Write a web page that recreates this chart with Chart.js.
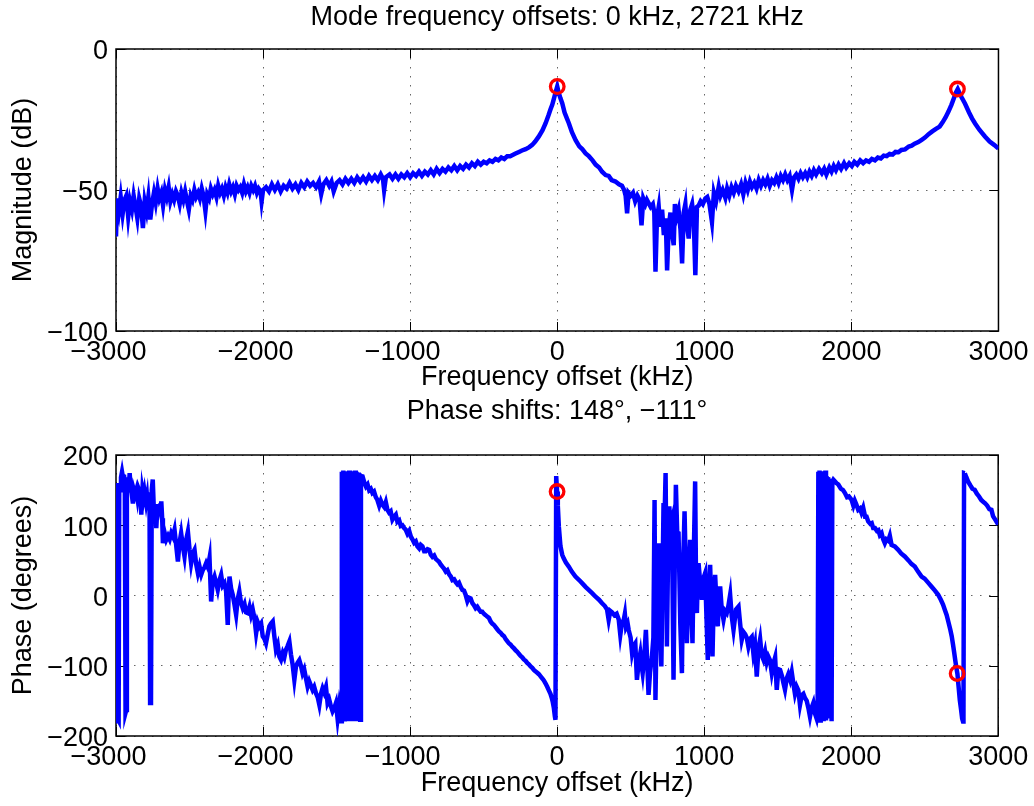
<!DOCTYPE html>
<html lang="en">
<head>
<meta charset="UTF-8">
<title>Mode frequency offsets</title>
<script src="https://cdn.jsdelivr.net/npm/chart.js"></script>
<style>
  body { margin: 0; background: #fff; }
  #wrap { position: relative; width: 1034px; height: 806px; }
  canvas { position: absolute; left: 0; }
  #magChart { top: 0; }
  #phaseChart { top: 395px; }
</style>
</head>
<body>
<div id="wrap">
  <canvas id="magChart" width="1034" height="395"></canvas>
  <canvas id="phaseChart" width="1034" height="411"></canvas>
</div>
<script>
// axis ticks
const freqTicks = [-3000, -2000, -1000, 0, 1000, 2000, 3000];
const magTicks = [-100, -50, 0];
const phaseTicks = [-200, -100, 0, 100, 200];

// detected modes (red circles)
const markerFreq = [0, 2721];
const markerMag = [-13.3, -14.2];
const markerPhase = [148, -111];

// measured magnitude response [kHz, dB]
const magnitudeTrace = [
  [-3000,-66.5],[-2993,-53],[-2980,-57.5],[-2968,-52.5],[-2955,-58.5],[-2942,-53.5],[-2930,-52],[-2917,-59.5],
  [-2905,-54],[-2892,-57],[-2880,-52],[-2867,-56],[-2855,-60],[-2842,-53],[-2830,-55.5],[-2817,-63.5],
  [-2805,-54],[-2792,-57.5],[-2780,-52.5],[-2767,-60.5],[-2755,-55],[-2742,-51],[-2730,-54.5],[-2717,-49.5],
  [-2705,-53],[-2692,-51],[-2680,-55.5],[-2667,-50],[-2655,-52.5],[-2642,-49],[-2630,-54],[-2617,-51.5],
  [-2605,-53.5],[-2592,-50.5],[-2580,-52],[-2567,-55],[-2555,-51],[-2542,-53.5],[-2530,-50.5],[-2517,-54],
  [-2505,-57],[-2492,-52],[-2480,-53.5],[-2467,-50],[-2455,-52.5],[-2442,-51],[-2430,-53],[-2417,-49.5],
  [-2405,-52],[-2392,-57.5],[-2380,-51.5],[-2367,-53],[-2355,-49.5],[-2342,-51.5],[-2330,-50],[-2317,-52.5],
  [-2305,-48.5],[-2292,-51],[-2280,-49.5],[-2267,-52],[-2255,-49],[-2242,-51],[-2230,-48],[-2217,-50.5],
  [-2205,-49],[-2192,-51.5],[-2180,-48.5],[-2167,-50],[-2155,-49],[-2142,-51],[-2130,-48],[-2117,-50.5],
  [-2105,-49],[-2092,-51],[-2080,-48.5],[-2067,-50],[-2055,-48.5],[-2042,-51],[-2030,-49.5],[-2017,-50.5],
  [-2010,-54],[-2000,-50],[-1980,-49],[-1960,-50.5],[-1940,-48],[-1920,-50],[-1900,-48],[-1880,-50.5],
  [-1860,-48.5],[-1840,-49.5],[-1820,-47.5],[-1800,-49.5],[-1780,-48],[-1760,-50],[-1740,-47.5],[-1720,-49],
  [-1700,-47],[-1680,-48.5],[-1660,-47.5],[-1640,-49],[-1620,-47],[-1605,-51.5],[-1590,-48],[-1570,-46.5],
  [-1550,-48.5],[-1535,-47],[-1520,-50.5],[-1500,-47.5],[-1480,-46.5],[-1460,-48],[-1440,-46],[-1420,-47.5],
  [-1400,-46],[-1380,-47.5],[-1360,-45.5],[-1340,-47],[-1320,-45.5],[-1300,-47],[-1280,-45],[-1260,-46.5],
  [-1240,-45],[-1220,-46.5],[-1200,-44.5],[-1185,-46],[-1177,-50],[-1165,-45.5],[-1140,-44.5],[-1120,-46],
  [-1100,-44.5],[-1080,-46],[-1060,-44.5],[-1040,-45.5],[-1020,-44],[-1000,-45.5],[-980,-44],[-960,-45],
  [-940,-43.5],[-920,-45],[-900,-43.5],[-880,-44.5],[-860,-43],[-840,-44.5],[-820,-42.5],[-800,-44],
  [-780,-42.5],[-760,-43.5],[-740,-42],[-720,-43],[-700,-41.5],[-680,-43],[-660,-41.5],[-640,-42.5],
  [-620,-41],[-600,-42],[-580,-40.5],[-560,-41.5],[-540,-40],[-520,-41],[-500,-40],[-480,-40.5],
  [-460,-39.5],[-440,-40],[-420,-39],[-400,-39.5],[-380,-38.5],[-360,-39],[-340,-38],[-320,-38],
  [-300,-37.5],[-280,-37],[-260,-36.5],[-240,-36],[-215,-35.5],[-190,-34.8],[-170,-34],[-150,-32.8],
  [-125,-31],[-100,-28.8],[-79,-26.3],[-60,-23.6],[-45,-21.3],[-34,-19.8],[-22,-17.5],[-12,-15.5],
  [0,-13.3],[10,-15.5],[22,-17.5],[34,-19.2],[50,-22.5],[65,-24.5],[79,-26.3],[100,-29.5],
  [125,-32.3],[150,-34.5],[170,-35.5],[193,-37],[215,-38],[240,-39.5],[261,-41],[285,-42],
  [305,-43.5],[329,-44.7],[350,-45],[370,-46.5],[396,-47],[420,-48],[440,-48.5],[455,-50],
  [465,-52],[475,-58.3],[485,-51],[500,-52],[515,-51],[530,-54],[545,-52],[560,-53.5],
  [573,-62.5],[585,-53],[600,-55],[610,-53.5],[622,-54.7],[635,-56],[650,-55],[660,-58],
  [668,-79],[678,-60],[690,-56],[700,-63],[713,-57],[725,-66],[738,-60],[747,-78.5],
  [758,-63],[770,-58],[780,-65],[792,-69.6],[800,-55],[810,-60],[825,-57],[838,-64],
  [849,-76],[860,-58],[871,-55],[880,-62],[894,-67.2],[905,-57],[917,-55],[928,-60],
  [939,-80.2],[950,-56],[962,-55.5],[975,-54],[990,-55],[1007,-53],[1020,-52.5],[1035,-55],
  [1052,-61.3],[1065,-51],[1080,-54],[1098,-48.8],[1110,-52],[1125,-50],[1143,-52.8],[1155,-49.5],
  [1170,-52],[1185,-49],[1200,-51],[1215,-48.5],[1233,-50.5],[1250,-48],[1265,-51.5],[1280,-47.5],
  [1295,-50],[1310,-47],[1324,-49],[1340,-47.5],[1355,-49.5],[1370,-46.5],[1385,-48.5],[1400,-46.5],
  [1415,-48],[1430,-46],[1445,-48.5],[1460,-46.5],[1475,-47.5],[1490,-45.5],[1505,-47.5],[1520,-45],
  [1535,-46.5],[1550,-44.5],[1565,-46.5],[1580,-45],[1596,-50],[1610,-45.5],[1625,-44.5],[1640,-46],
  [1655,-44],[1670,-45.5],[1686,-44],[1700,-45.5],[1715,-43.5],[1730,-45],[1745,-43],[1760,-44.5],
  [1780,-42.5],[1799,-44],[1815,-42.5],[1830,-44.5],[1850,-42],[1865,-43.5],[1880,-41.5],[1895,-43],
  [1913,-41],[1930,-42.5],[1950,-40.5],[1965,-42],[1985,-40.5],[2003,-41.5],[2020,-40],[2040,-41],
  [2060,-39.5],[2080,-40.5],[2100,-39.5],[2120,-40],[2139,-39],[2160,-39.5],[2180,-38.5],[2200,-38.8],
  [2220,-37.8],[2240,-38],[2260,-37.2],[2280,-37.4],[2300,-36.5],[2320,-36.6],[2340,-35.8],[2365,-35.6],
  [2390,-34.6],[2410,-34.3],[2430,-33.6],[2455,-33],[2478,-32.2],[2500,-31.4],[2525,-30.2],[2550,-29.2],
  [2575,-28.3],[2600,-27.5],[2620,-26],[2640,-24.3],[2660,-22.2],[2680,-19.8],[2700,-17],[2712,-15.3],
  [2723,-14.2],[2735,-15.6],[2750,-17.2],[2773,-19.4],[2800,-22.5],[2820,-24.6],[2841,-26.4],[2870,-28.6],
  [2908,-31],[2940,-32.8],[2970,-34],[3000,-35.3]
];

// measured phase response [kHz, degrees]
const phaseTrace = [
  [-3000,155],[-2996,160],[-2992,-179],[-2987,-176],[-2982,-178],[-2978,158],[-2972,150],[-2966,168],
  [-2959,176],[-2952,167],[-2946,172],[-2940,160],[-2935,-167],[-2930,-163],[-2926,150],[-2919,168],
  [-2913,155],[-2907,174],[-2900,152],[-2893,145],[-2885,131],[-2878,150],[-2870,144],[-2862,150],
  [-2855,140],[-2848,153],[-2839,148],[-2833,136],[-2828,115],[-2820,150],[-2812,140],[-2806,148],
  [-2795,132],[-2789,140],[-2783,122],[-2777,140],[-2772,147],[-2768,-153],[-2762,-150],[-2757,150],
  [-2750,165],[-2744,130],[-2738,112],[-2732,130],[-2726,96],[-2720,120],[-2714,126],[-2704,128],
  [-2697,120],[-2692,134],[-2686,110],[-2681,74.5],[-2670,90],[-2658,79.3],[-2646,85],[-2635,80],
  [-2624,88.8],[-2613,84],[-2602,93.5],[-2590,70],[-2579,48.4],[-2568,75],[-2557,88.8],[-2545,70],
  [-2534,55.6],[-2522,80],[-2511,91],[-2500,66],[-2489,46],[-2478,60],[-2466,65],[-2455,45],
  [-2443,31.8],[-2432,41.3],[-2420,30],[-2409,36.6],[-2398,40],[-2387,46],[-2375,40],[-2364,53.2],
  [-2353,-8.5],[-2342,20],[-2330,27],[-2319,18],[-2308,8],[-2296,22],[-2285,29.4],[-2274,14],
  [-2262,17.6],[-2251,6],[-2240,-41.8],[-2234,0],[-2228,27],[-2217,10],[-2206,1],[-2195,-12],
  [-2183,-27.5],[-2172,-5],[-2161,5.7],[-2150,-10],[-2138,-18],[-2126,-12],[-2115,-24],[-2104,-25],
  [-2092,-16],[-2081,-28],[-2070,-20],[-2058,-33],[-2047,-53.7],[-2036,-38],[-2025,-44],[-2013,-40],
  [-2002,-58],[-1990,-62],[-1980,-68],[-1968,-55],[-1957,-44],[-1946,-40],[-1934,-37],[-1923,-58],
  [-1912,-77],[-1900,-70],[-1889,-87],[-1878,-91.6],[-1866,-82],[-1855,-88],[-1844,-77],[-1833,-72],
  [-1821,-65.5],[-1810,-84],[-1799,-98],[-1787,-120],[-1776,-101],[-1765,-96],[-1753,-92],[-1742,-100],
  [-1731,-110.6],[-1720,-105],[-1708,-118],[-1697,-129.6],[-1686,-122],[-1675,-128],[-1663,-134.4],[-1652,-130],
  [-1640,-139],[-1628,-145],[-1617,-155.7],[-1606,-140],[-1595,-132],[-1584,-138],[-1572,-130],[-1561,-153],
  [-1550,-148],[-1538,-158],[-1527,-165],[-1515,-160],[-1504,-153],[-1493,-175],[-1482,-156],[-1473,-168],
  [-1468,-179],[-1464,176],[-1459,-178],[-1454,178],[-1449,-176],[-1444,175],[-1439,-179],[-1434,177],
  [-1429,-177],[-1424,176],[-1419,-175],[-1414,178],[-1409,-179],[-1404,174],[-1399,-178],[-1394,177],
  [-1389,-176],[-1384,175],[-1379,-179],[-1374,178],[-1369,-177],[-1364,176],[-1359,-178],[-1354,175],
  [-1349,-179],[-1344,174],[-1339,-177],[-1334,170],[-1323,169.5],[-1310,160],[-1300,155],[-1289,158],
  [-1278,150],[-1267,152],[-1256,146],[-1245,148],[-1233,140],[-1222,136],[-1210,128],[-1199,135],
  [-1187,129],[-1176,126],[-1165,133],[-1154,122],[-1143,118],[-1132,120],[-1120,108],[-1109,112],
  [-1097,115],[-1086,105],[-1074,107],[-1063,99],[-1052,100],[-1040,96],[-1029,93.5],[-1018,88],
  [-1006,92],[-995,84],[-984,80],[-972,75],[-961,77],[-950,70],[-938,67],[-927,72],
  [-916,70],[-904,63],[-893,63],[-881,66],[-870,65],[-859,58],[-848,55],[-836,57],
  [-825,52],[-814,50],[-803,48],[-791,44],[-780,41],[-768,38],[-757,34],[-746,36],
  [-734,30],[-723,27],[-712,22],[-700,23],[-689,19],[-678,16],[-667,18],[-655,12],
  [-644,8],[-633,7],[-622,1],[-610,-8],[-599,-3],[-588,-4],[-576,-11],[-565,-14],
  [-554,-18],[-543,-16],[-531,-20],[-520,-23],[-509,-23],[-498,-26],[-486,-28],[-475,-30],
  [-463,-32],[-452,-37],[-441,-40],[-429,-42],[-418,-45],[-407,-48],[-395,-51],[-384,-53],
  [-373,-56],[-361,-58],[-350,-62],[-339,-65],[-328,-68],[-316,-70],[-305,-73],[-294,-75],
  [-282,-78],[-271,-80],[-260,-83],[-248,-86],[-237,-88],[-226,-91],[-214,-93],[-203,-96],
  [-192,-98],[-180,-101],[-169,-103],[-158,-106],[-146,-108],[-135,-110],[-124,-112],[-112,-115],
  [-101,-118],[-90,-121],[-79,-125],[-67,-130],[-56,-135],[-45,-140],[-36,-146],[-29,-152],
  [-22,-160],[-15,-172],[-11,-177],[-6,170],[0,148],[5,128],[12,98],[23,70],
  [35,58],[45,53],[60,47],[80,41],[100,34],[125,27],[150,22],[170,17.6],
  [195,12],[215,8],[240,3],[260,-1.4],[285,-6],[306,-11],[325,-15],[340,-20],
  [351,-34.7],[362,-22],[374,-24],[390,-28],[405,-26],[419,-34],[430,-56],[442,-38],
  [453,-35],[461,-26],[469,-45],[480,-40],[487,-49],[500,-60],[510,-82],[520,-72],
  [532,-68],[543,-120],[555,-95],[566,-82],[575,-100],[582,-110.6],[592,-90],[604,-49],
  [612,-90],[622,-141.5],[632,-110],[645,-87],[655,-60],[663,136],[669,-148.6],[676,-60],
  [684,30],[691,74.5],[700,-40],[709,-101],[716,0],[724,131.5],[731,110],[738,174.3],
  [743,50],[747,-72.6],[755,60],[763,126.8],[772,100],[781,107.8],[787,-20],[792,-120],
  [800,40],[808,157.6],[817,90],[826,88.8],[838,-40],[849,-110.6],[858,50],[867,119.7],
  [875,40],[883,-68],[893,20],[905,79.3],[913,-20],[921,-68],[930,60],[939,162.4],
  [945,20],[951,-25],[957,30],[962,46],[973,20],[985,-6],[996,25],[1007,31.8],
  [1016,-30],[1025,-91.6],[1033,10],[1041,43.7],[1049,-20],[1057,-86.9],[1066,0],[1075,29.4],
  [1084,-10],[1093,-44],[1101,-5],[1109,12.8],[1120,-20],[1132,-34.7],[1143,-22],[1154,-25],
  [1165,-15],[1177,1],[1188,-30],[1200,-49],[1217,-20],[1234,-15.7],[1245,-40],[1256,-63],
  [1268,-52],[1279,-55],[1290,-60],[1301,-72.6],[1312,-62],[1324,-59],[1335,-82],[1346,-70],
  [1358,-115.4],[1370,-75],[1381,-62],[1392,-85],[1403,-91],[1415,-80],[1426,-95],[1437,-87],
  [1448,-92],[1460,-110],[1471,-97],[1483,-88],[1494,-134.4],[1505,-105],[1517,-106],[1530,-115],
  [1540,-125],[1550,-134],[1562,-118],[1573,-112],[1585,-120],[1596,-109],[1607,-125],[1618,-140],
  [1630,-130],[1641,-135],[1652,-155.7],[1664,-142],[1675,-140],[1686,-146],[1698,-150],[1709,-160],
  [1720,-172.4],[1731,-160],[1743,-153],[1754,-168],[1765,-175],[1772,-165],[1777,176],[1781,-176],
  [1785,178],[1789,-178],[1793,175],[1797,-174],[1801,177],[1805,-177],[1809,176],[1813,-179],
  [1817,174],[1821,-176],[1825,178],[1829,-178],[1833,170],[1838,-175],[1843,168],[1850,160],
  [1856,166],[1862,158],[1867,-179],[1872,162],[1879,164.8],[1900,160],[1913,158],[1930,152],
  [1945,150],[1958,145.8],[1972,140],[1985,141],[2003,136.3],[2015,128],[2025,135],[2035,130],
  [2048,122],[2060,124],[2070,118],[2082,125],[2095,112],[2105,112],[2116,105.4],[2130,102],
  [2140,103],[2150,96],[2162,96],[2175,92],[2185,93],[2195,86],[2207,88.8],[2218,80],
  [2229,74.5],[2240,80],[2252,78],[2263,85],[2275,72],[2297,69.8],[2320,65],[2340,60],
  [2365,55.6],[2390,50],[2410,45],[2433,41.3],[2455,34],[2479,27],[2500,24],[2525,18],
  [2546,12.8],[2570,7],[2592,1],[2610,-6],[2625,-13],[2637,-20.4],[2650,-28],[2662,-38],
  [2675,-49],[2684,-58],[2693,-70],[2700,-80],[2708,-92],[2716,-103],[2723,-111.6],[2730,-128],
  [2739,-148.6],[2748,-163],[2755,-175],[2761,-179.5],[2764,-175],[2768,174.3],[2773,174],[2784,168],
  [2795,162.4],[2810,157],[2825,152],[2840,150.5],[2855,145],[2870,141],[2885,136],[2900,133],
  [2910,131.5],[2925,128],[2940,123],[2954,122],[2965,113],[2980,108],[2992,104],[3000,101]
];

Chart.defaults.font.family = '"Liberation Sans", Arial, Helvetica, sans-serif';
Chart.defaults.font.size = 27;
Chart.defaults.color = '#000';

// matlab style labels: true minus sign, digits centred under the tick
function tickText(v) {
  if (v < 0) return '\u2212' + Math.abs(v) + '  ';
  return String(v);
}
function yTickText(v) {
  return v < 0 ? '\u2212' + Math.abs(v) : String(v);
}

// box round the axes and inward tick marks on all four sides
const boxPlugin = {
  id: 'axesBox',
  beforeDatasetsDraw(chart) {
    const { ctx, chartArea: a, scales } = chart;
    const len = 9;
    ctx.save();
    ctx.strokeStyle = '#000';
    ctx.lineWidth = 1;
    ctx.beginPath();
    scales.x.ticks.forEach(t => {
      const px = Math.round(scales.x.getPixelForValue(t.value)) + 0.5;
      ctx.moveTo(px, a.bottom); ctx.lineTo(px, a.bottom - len);
      ctx.moveTo(px, a.top); ctx.lineTo(px, a.top + len);
    });
    scales.y.ticks.forEach(t => {
      const py = Math.round(scales.y.getPixelForValue(t.value)) + 0.5;
      ctx.moveTo(a.left, py); ctx.lineTo(a.left + len, py);
      ctx.moveTo(a.right, py); ctx.lineTo(a.right - len, py);
    });
    ctx.stroke();
    ctx.lineWidth = 1.5;
    ctx.strokeRect(a.left, a.top, a.right - a.left, a.bottom - a.top);
    ctx.restore();
  }
};

const gridOpts = { color: 'rgba(0,0,0,0.6)', lineWidth: 1, drawTicks: false };
const borderOpts = { display: false, dash: [1.5, 7.5] };

function makePlot(id, o) {
  return new Chart(document.getElementById(id), {
    type: 'scatter',
    data: {
      datasets: [
        {
          data: o.markers,
          showLine: false,
          pointRadius: 6.8,
          pointBorderWidth: 3.3,
          pointBorderColor: '#ff0000',
          pointBackgroundColor: 'rgba(0,0,0,0)',
          order: 0
        },
        {
          data: o.trace.map(p => ({ x: p[0], y: p[1] })),
          showLine: true,
          borderColor: '#0000ff',
          borderWidth: 4.5,
          pointRadius: 0,
          order: 1
        }
      ]
    },
    options: {
      responsive: false,
      animation: false,
      events: [],
      layout: { padding: { left: 0, right: 34, top: 0, bottom: 0 } },
      plugins: {
        legend: { display: false },
        tooltip: { enabled: false },
        title: {
          display: true,
          fullSize: false,
          text: o.title,
          color: '#000',
          font: { size: 27, weight: 'normal' },
          padding: { top: o.titleTop, bottom: o.titleBottom }
        }
      },
      scales: {
        x: {
          type: 'linear',
          min: -3000,
          max: 3000,
          afterBuildTicks: s => { s.ticks = freqTicks.map(v => ({ value: v })); },
          afterFit: s => { s.height = o.xHeight; },
          ticks: { padding: o.xTickPad, autoSkip: false, maxRotation: 0, callback: v => tickText(v) },
          grid: gridOpts,
          border: borderOpts,
          title: { display: true, text: 'Frequency offset (kHz)', padding: { top: 0, bottom: o.xTitlePad } }
        },
        y: {
          min: o.yMin,
          max: o.yMax,
          afterBuildTicks: s => { s.ticks = o.yTicks.map(v => ({ value: v })); },
          afterFit: s => { s.width = 116; },
          ticks: { padding: 8, labelOffset: 3, callback: v => yTickText(v) },
          grid: gridOpts,
          border: borderOpts,
          title: { display: true, text: o.yTitle, padding: { top: 7, bottom: 0 } }
        }
      }
    },
    plugins: [boxPlugin]
  });
}

makePlot('magChart', {
  title: 'Mode frequency offsets: 0 kHz, 2721 kHz',
  titleTop: 1.8, titleBottom: 14.8,
  xHeight: 64, xTickPad: 5.5, xTitlePad: 0.8,
  yMin: -100, yMax: 0, yTicks: magTicks, yTitle: 'Magnitude (dB)',
  trace: magnitudeTrace,
  markers: markerFreq.map((f, i) => ({ x: f, y: markerMag[i] }))
});

makePlot('phaseChart', {
  title: 'Phase shifts: 148\u00b0, \u2212111\u00b0',
  titleTop: 0.5, titleBottom: 27.1,
  xHeight: 70, xTickPad: 5.8, xTitlePad: 6.3,
  yMin: -200, yMax: 200, yTicks: phaseTicks, yTitle: 'Phase (degrees)',
  trace: phaseTrace,
  markers: markerFreq.map((f, i) => ({ x: f, y: markerPhase[i] }))
});
</script>
</body>
</html>
